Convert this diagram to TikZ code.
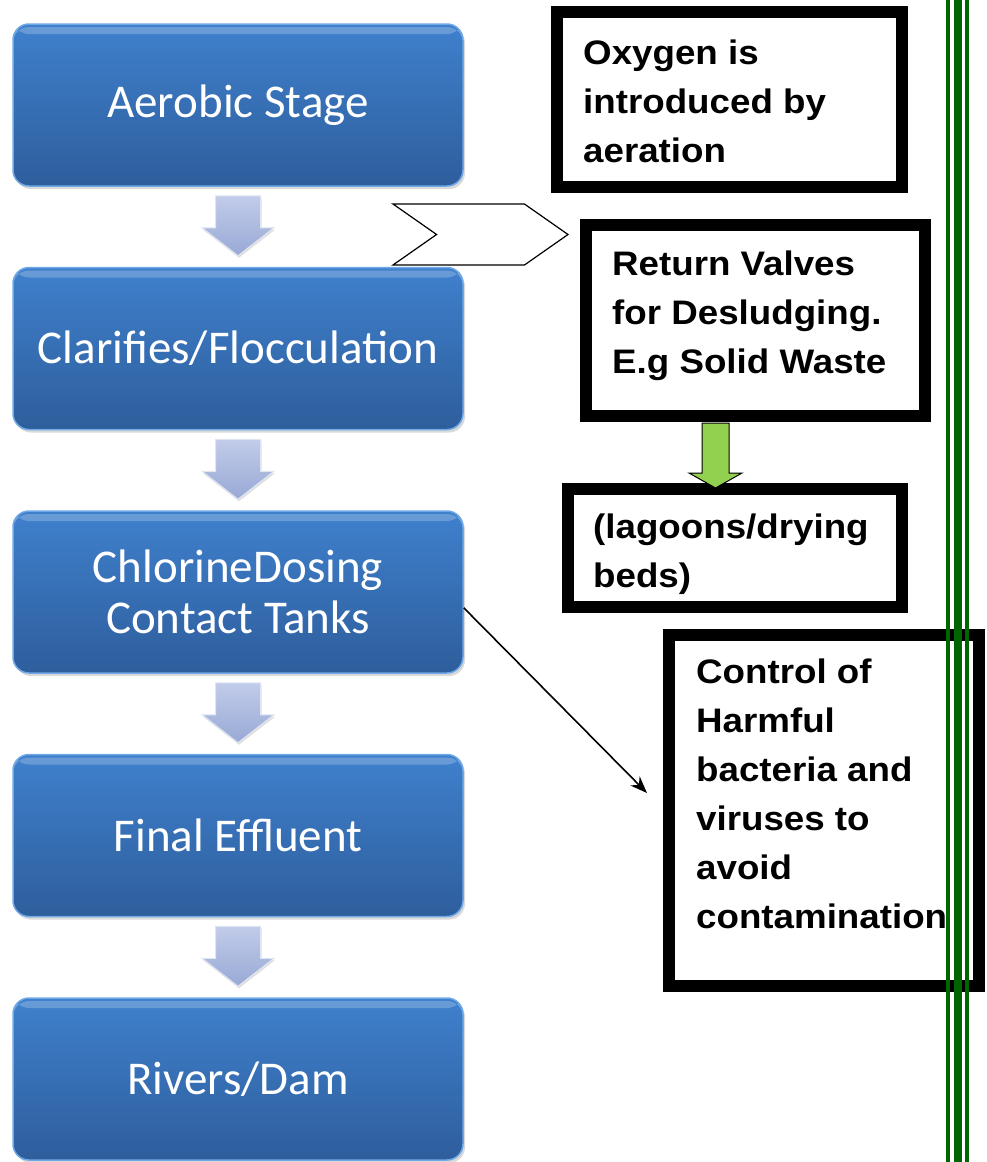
\documentclass[tikz,border=0pt]{standalone}
\usepackage{fontspec}
\newfontfamily\stagefont{Carlito}
\newfontfamily\notefont[FakeStretch=1.08]{Liberation Sans}
\usetikzlibrary{arrows.meta,positioning,calc,shadows,shapes.symbols}

\definecolor{stagetop}{HTML}{3F80CD}
\definecolor{stagebot}{HTML}{2E5E9C}
\definecolor{stagerim}{HTML}{6FA8E6}
\definecolor{flowtop}{HTML}{C2CCEA}
\definecolor{flowbot}{HTML}{98A9D5}
\definecolor{sludge}{HTML}{92D050}
\definecolor{rail}{HTML}{006400}

\begin{document}
\begin{tikzpicture}[
  x=1pt, y=-1pt,
  stage/.style={rectangle, rounded corners=16pt, minimum width=450pt, minimum height=162pt,
    top color=stagetop, bottom color=stagebot, draw=stagerim, line width=1.5pt,
    drop shadow={shadow xshift=2pt, shadow yshift=-3pt, opacity=0.3},
    text=white, align=center, font=\stagefont\fontsize{47}{51}\selectfont,
    path picture={\fill[white, opacity=0.22] ([yshift=-3pt]path picture bounding box.north west)
      rectangle ([yshift=-10pt]path picture bounding box.north east);}},
  note/.style={rectangle, draw, line width=12pt, fill=white, inner sep=0pt},
  notetxt/.style={anchor=north west, inner sep=0pt, align=left,
    font=\notefont\bfseries\fontsize{34}{49}\selectfont},
  flow/.style={top color=flowtop, bottom color=flowbot, draw=white!70!flowbot, line width=1pt,
    drop shadow={shadow xshift=1pt, shadow yshift=-2pt, opacity=0.25}},
  chev/.style={signal, signal from=west, signal to=east, signal pointer angle=70,
    draw, line width=1.2pt, fill=white, minimum width=175pt, minimum height=61pt, inner sep=0pt},
  greenarw/.style={fill=sludge, draw=black, line width=1pt, line join=miter},
  thinarr/.style={-{Stealth[length=17pt, width=13pt]}, line width=1.6pt}
]
  \useasboundingbox (0,0) rectangle (987,1162);

  % Treatment stages
  \node[stage] (aer) at (238,105) {Aerobic Stage};
  \node[stage, below=80pt of aer] (cla) {Clarifies/Flocculation};
  \node[stage, below=80pt of cla] (chl) {ChlorineDosing\\Contact Tanks};
  \node[stage, below=80pt of chl] (fin) {Final Effluent};
  \node[stage, below=80pt of fin] (riv) {Rivers/Dam};

  % Down arrows between stages
  \foreach \s in {aer,cla,chl,fin}
    \draw[flow] ($(\s.south)+(-22.5,9)$) -- ++(45,0) -- ++(0,32) -- ++(13.5,0)
      -- ($(\s.south)+(0,69)$) -- ++(-36,-28) -- ++(13.5,0) -- cycle;

  % Notes
  \node[note, minimum width=345pt, minimum height=175pt] (oxy) at (729.5,99.5) {};
  \node[notetxt] (oxytxt) at (583,40) {Oxygen is\\introduced by\\aeration};

  \node[chev] (ret2) at (480.5,234.5) {};

  \node[note, minimum width=339pt, minimum height=191pt] (ret) at (755.5,320.5) {};
  \node[notetxt] (rettxt) at (612,251) {Return Valves\\for Desludging.\\E.g Solid Waste};

  \node[note, minimum width=334pt, minimum height=118pt] (lag) at (735,548) {};
  \node[notetxt] (lagtxt) at (593,514) {(lagoons/drying\\beds)};

  \node[note, minimum width=310pt, minimum height=351pt] (ctl) at (824,810.5) {};
  \node[notetxt] (ctltxt) at (696,659) {Control of\\Harmful\\bacteria and\\viruses to\\avoid\\contamination};

  % Sludge arrow
  \coordinate (sludgetop) at ($(ret.south)+(-40,1)$);
  \draw[greenarw] (sludgetop) ++(-13.5,0) -- ++(27,0) -- ++(0,50) -- ++(13,0)
    -- ++(-26.5,15) -- ++(-26.5,-15) -- ++(13,0) -- cycle;

  % Chlorine link
  \coordinate (ctlin) at (647,793);
  \draw[thinarr] (chl.-4) -- (ctlin);

  % Rails
  \fill[rail] (946,0) rectangle (950,1162);
  \fill[rail] (954,0) rectangle (962,1162);
  \fill[rail] (965,0) rectangle (969,1162);
\end{tikzpicture}
\end{document}
